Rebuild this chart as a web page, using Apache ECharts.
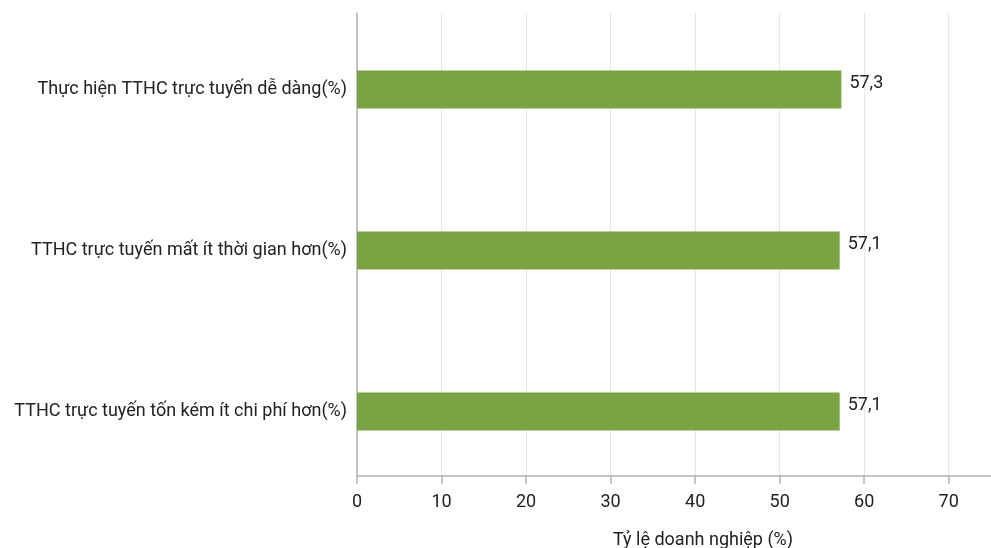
<!DOCTYPE html>
<html><head><meta charset="utf-8">
<script src="https://cdn.jsdelivr.net/npm/echarts@6/dist/echarts.min.js"></script>
<style>html,body{margin:0;padding:0;background:#fff}#c{width:991px;height:548px}</style>
</head><body><div id="c"></div>
<script>
const categories = [
  "Thực hiện TTHC trực tuyến dễ dàng(%)",
  "TTHC trực tuyến mất ít thời gian hơn(%)",
  "TTHC trực tuyến tốn kém ít chi phí hơn(%)"
];
const values = [57.3, 57.1, 57.1];
const xMin = 0, xMax = 75, xStep = 10;
const xName = "Tỷ lệ doanh nghiệp (%)";

const FONT = "Roboto";
const chart = echarts.init(document.getElementById('c'), null, {renderer:'canvas'});
chart.setOption({
  animation: false,
  textStyle: {fontFamily: FONT},
  grid: [
    {left: 357, right: 0, top: 13, bottom: 72, containLabel: false, outerBoundsMode: 'none'},
    {left: 357, right: 0, top: 9, bottom: 56, containLabel: false, outerBoundsMode: 'none'}
  ],
  xAxis: [
    {
      gridIndex: 0, type: 'value', min: xMin, max: xMax, interval: xStep,
      axisLine: {show: true, lineStyle: {color: '#b3b3b3', width: 1.5}},
      axisTick: {show: true, length: 8, lineStyle: {color: '#b3b3b3', width: 1.5}},
      splitLine: {show: true, lineStyle: {color: '#e6e6e6', width: 1}},
      axisLabel: {color: '#222', fontSize: 18, margin: 17, showMaxLabel: false, fontFamily: FONT},
      name: xName, nameLocation: 'middle', nameGap: 55,
      nameTextStyle: {color: '#222', fontSize: 18, fontFamily: FONT, padding: [0, 0, 0, 58]}
    },
    {
      gridIndex: 1, type: 'value', min: xMin, max: xMax, interval: xStep, show: false,
      splitLine: {show: false}
    }
  ],
  yAxis: [
    {
      gridIndex: 0, type: 'category', data: categories, inverse: true,
      axisLine: {show: true, lineStyle: {color: '#b3b3b3', width: 1.5}},
      axisTick: {show: false}, axisLabel: {show: false}, splitLine: {show: false}
    },
    {
      gridIndex: 1, type: 'category', data: categories, inverse: true,
      axisLine: {show: false}, axisTick: {show: false}, splitLine: {show: false},
      axisLabel: {color: '#222', fontSize: 18, margin: 10, fontFamily: FONT}
    }
  ],
  series: [{
    type: 'bar', xAxisIndex: 1, yAxisIndex: 1, data: values, barWidth: 38,
    itemStyle: {color: '#7AA342'},
    label: {
      show: true, position: 'right', distance: 8, offset: [0, -6],
      color: '#222', fontSize: 18, fontFamily: FONT,
      formatter: p => String(p.value).replace('.', ',')
    }
  }]
});
</script></body></html>
